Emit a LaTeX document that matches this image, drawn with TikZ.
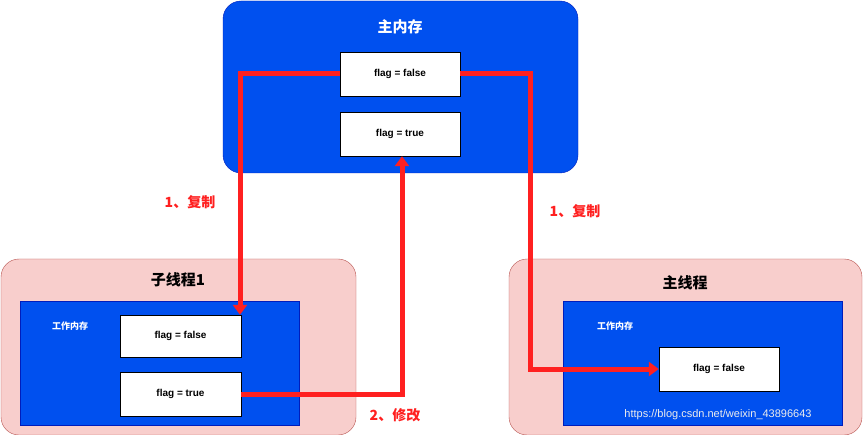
\documentclass[tikz,border=0pt]{standalone}
\usepackage{fontspec}
\setmainfont{Liberation Sans}
\newfontfamily\cjk{Noto Sans CJK SC}
\usetikzlibrary{arrows.meta}
\definecolor{mblue}{HTML}{0050EF}
\definecolor{bblue}{HTML}{001DBC}
\definecolor{pinkf}{HTML}{F8CECC}
\definecolor{pinkd}{HTML}{B85450}
\definecolor{rr}{HTML}{FF2020}
\begin{document}
\begin{tikzpicture}[x=1pt,y=-1pt,
  bluebox/.style={draw=bblue,fill=mblue},
  pinkbox/.style={draw=pinkd,fill=pinkf,rounded corners=18pt},
  flagbox/.style={draw=black,fill=white,minimum width=120pt,minimum height=44pt,inner sep=0pt,font=\bfseries\fontsize{10}{12}\selectfont},
  title/.style={font=\cjk\bfseries\fontsize{15}{18}\selectfont},
  wlab/.style={white,font=\cjk\bfseries\fontsize{9}{11}\selectfont},
  rlab/.style={rr,font=\cjk\bfseries\fontsize{14}{17}\selectfont},
  arr/.style={rr,line width=5pt,-{Triangle[length=10pt,width=14pt]}}]
\useasboundingbox (0,0) rectangle (864,435);
\fill[white] (0,0) rectangle (864,435);
% main memory
\draw[bluebox,rounded corners=18pt] (223,1) rectangle (578,173);
\node[title,white] (tm) at (400,27) {主内存};
\node[flagbox] (mf) at (400,74) {flag = false};
\node[flagbox] (mt) at (400,134) {flag = true};
% left thread
\draw[pinkbox] (1,259) rectangle (356,435);
\node[title] (tl) at (178,280) {子线程1};
\draw[bluebox] (20,301) rectangle (299,425);
\node[wlab] (wl) at (70,326) {工作内存};
\node[flagbox,minimum width=121pt,minimum height=42pt] (lf) at (180.5,336) {flag = false};
\node[flagbox,minimum width=121pt] (lt) at (180.5,394) {flag = true};
% right thread
\draw[pinkbox] (509,259) rectangle (862,435);
\node[title] (tr) at (685,283) {主线程};
\draw[bluebox] (563,301) rectangle (842,425);
\node[wlab] (wr) at (615,326) {工作内存};
\node[flagbox] (rf) at (719,369) {flag = false};
% arrows
\coordinate (a1) at (240,74);
\coordinate (a2) at (402,394);
\coordinate (a3) at (530,74);
\coordinate (a4) at (530,369);
\draw[arr] (mf.west) -- (a1) -- (a1 |- lf.north);
\draw[arr] (lt.east) -- (a2) -- (a2 |- mt.south);
\draw[arr] (mf.east) -- (a3) -- (a4) -- (rf.west);
\node[rlab] (l1) at (190,202) {1、复制};
\node[rlab] (l2) at (395,415) {2、修改};
\node[rlab] (l3) at (575,211) {1、复制};
\node[white!85!gray,font=\fontsize{11}{13}\selectfont] (wm) at (718,415) {https://blog.csdn.net/weixin\_43896643};
\end{tikzpicture}
\end{document}
